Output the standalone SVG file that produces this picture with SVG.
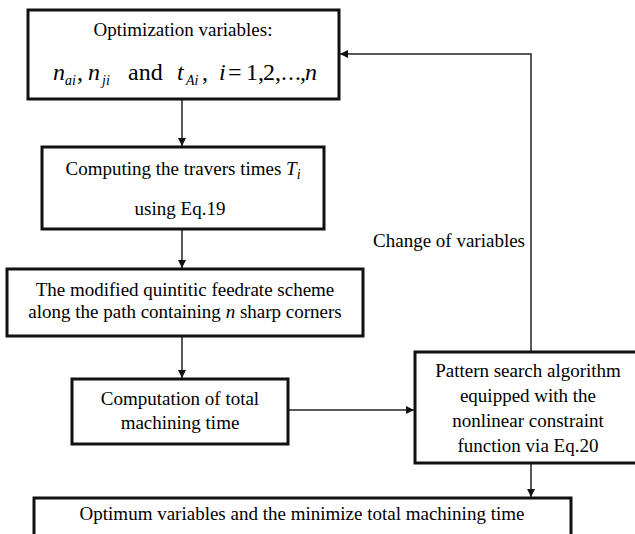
<svg xmlns="http://www.w3.org/2000/svg" width="635" height="534" viewBox="0 0 635 534">
<style>
.box{fill:#fff;stroke:#111;stroke-width:3}
.t{font-family:"Liberation Serif","Times New Roman",serif;font-size:19px;fill:#000;text-anchor:middle}
.m{font-family:"Liberation Serif","Times New Roman",serif;font-size:24px;fill:#000}
.i{font-style:italic}
.s{font-size:14px;font-style:italic}
.c{fill:none;stroke:#222;stroke-width:1.5}
</style>
<defs>
<marker id="ah" viewBox="0 0 10 10" refX="10" refY="5" markerWidth="8" markerHeight="8" markerUnits="userSpaceOnUse" orient="auto">
<path d="M0,0 L10,5 L0,10 z" fill="#111"/>
</marker>
</defs>
<rect width="635" height="534" fill="#fff"/>
<g id="connectors">
<line class="c" x1="182" y1="100" x2="182" y2="146" marker-end="url(#ah)"/>
<line class="c" x1="182" y1="230" x2="182" y2="268" marker-end="url(#ah)"/>
<line class="c" x1="182" y1="337" x2="182" y2="378" marker-end="url(#ah)"/>
<line class="c" x1="289" y1="410" x2="414" y2="410" marker-end="url(#ah)"/>
<line class="c" x1="531" y1="464" x2="531" y2="497" marker-end="url(#ah)"/>
<polyline class="c" points="531,351 531,54 340,54" marker-end="url(#ah)"/>
<text class="t" x="525" y="247" style="text-anchor:end">Change of variables</text>
</g>
<g id="n1">
<rect class="box" x="28" y="10" width="311" height="89"/>
<text class="t" x="183" y="36">Optimization variables:</text>
<text class="m" y="80"><tspan class="i" x="53">n</tspan><tspan class="s" x="65" dy="5">ai</tspan><tspan x="77" dy="-5">,</tspan><tspan class="i" x="88">n</tspan><tspan class="s" x="102" dy="5">ji</tspan><tspan x="128" dy="-5">and</tspan><tspan class="i" x="177">t</tspan><tspan class="s" x="186" dy="5">Ai</tspan><tspan x="202" dy="-5">,</tspan><tspan class="i" x="219">i</tspan><tspan x="228">=</tspan><tspan x="246 258 263 275 281 288 295 300">1,2,...,</tspan><tspan class="i" x="305">n</tspan></text>
</g>
<g id="n2">
<rect class="box" x="42" y="147" width="282" height="82"/>
<text class="t" x="183" y="175">Computing the travers times <tspan class="i">T</tspan><tspan class="s" dy="4">i</tspan></text>
<text class="t" x="180" y="215">using Eq.19</text>
</g>
<g id="n3">
<rect class="box" x="7" y="269" width="356" height="67"/>
<text class="t" x="185" y="296">The modified quintitic feedrate scheme</text>
<text class="t" x="185" y="318">along the path containing <tspan class="i">n</tspan> sharp corners</text>
</g>
<g id="n4">
<rect class="box" x="72" y="379" width="216" height="65"/>
<text class="t" x="180" y="405">Computation of total</text>
<text class="t" x="180" y="429">machining time</text>
</g>
<g id="n5">
<rect class="box" x="415" y="352" width="230" height="111"/>
<text class="t" x="528" y="377">Pattern search algorithm</text>
<text class="t" x="528" y="402">equipped with the</text>
<text class="t" x="528" y="427">nonlinear constraint</text>
<text class="t" x="528" y="452">function via Eq.20</text>
</g>
<g id="n6">
<rect class="box" x="34" y="498" width="537" height="50"/>
<text class="t" x="302" y="520">Optimum variables and the minimize total machining time</text>
</g>
</svg>
